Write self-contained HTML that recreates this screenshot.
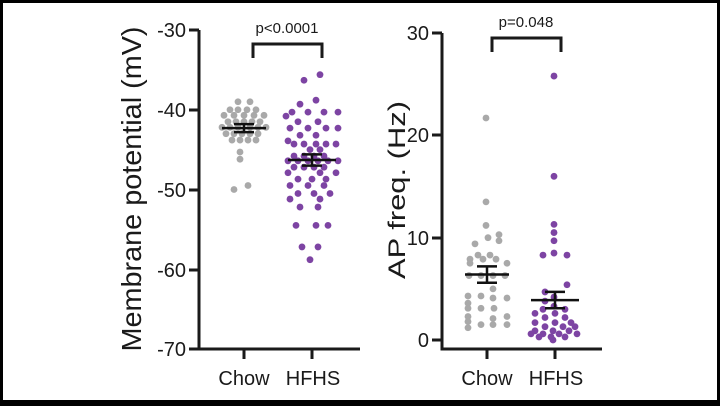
<!DOCTYPE html>
<html><head><meta charset="utf-8"><style>
html,body{margin:0;padding:0;background:#000}
#c{position:absolute;left:0;top:0;width:720px;height:406px;background:#000}
svg{position:absolute;left:0;top:0}
text{font-family:"Liberation Sans",Arial,sans-serif;fill:#1a1a1a}
</style></head><body><div id="c">
<svg id="s" width="720" height="406" viewBox="0 0 720 406">
<rect x="3" y="3" width="714" height="397" fill="#fff"/>
<g stroke="#1a1a1a" stroke-width="3" fill="none">
<path d="M199,30 V349 H360"/>
<path d="M189,30 H199 M189,110 H199 M189,190 H199 M189,270 H199 M189,349 H199"/>
<path d="M244,349 V359 M312,349 V359"/>
<path d="M253,58 V44 H322 V58"/>
<path d="M442,33 V349 H602"/>
<path d="M432,33 H442 M432,135 H442 M432,238 H442 M432,340 H442"/>
<path d="M487,349 V359 M555,349 V359"/>
<path d="M492,52 V38 H561 V52"/>
</g>
<g font-size="20" text-anchor="end">
<text x="186" y="37">-30</text><text x="186" y="117">-40</text><text x="186" y="197">-50</text><text x="186" y="277">-60</text><text x="186" y="356">-70</text>
<text x="429" y="40">30</text><text x="429" y="142">20</text><text x="429" y="245">10</text><text x="429" y="347">0</text>
</g>
<g font-size="20" text-anchor="middle">
<text x="244" y="385">Chow</text><text x="313" y="385">HFHS</text>
<text x="487" y="385">Chow</text><text x="556" y="385">HFHS</text>
</g>
<text x="287" y="33" font-size="15" text-anchor="middle">p&lt;0.0001</text>
<text x="526" y="27" font-size="15" text-anchor="middle">p=0.048</text>
<text transform="translate(141,189) rotate(-90)" font-size="28" text-anchor="middle" textLength="325" lengthAdjust="spacingAndGlyphs">Membrane potential (mV)</text>
<text transform="translate(405,190) rotate(-90)" font-size="24" text-anchor="middle" textLength="178" lengthAdjust="spacingAndGlyphs">AP freq. (Hz)</text>
<g id="pts"></g>
<g stroke="#111" stroke-width="2.5" fill="none" id="means"></g>
</svg></div>
<script>
var g=document.getElementById('pts'),m=document.getElementById('means');
function yl(v){return 30+(-30-v)*7.975}
function yr(v){return 340-v*10.23}
function dot(x,y,c){var e=document.createElementNS('http://www.w3.org/2000/svg','circle');e.setAttribute('cx',x);e.setAttribute('cy',y);e.setAttribute('r',3.4);e.setAttribute('fill',c);g.appendChild(e)}
var G='#a9a9a9',P='#7d44a3';
// left chow
[[-39,[-6,6]],[-40,[-14,-6,3,12]],[-40.7,[-20,-10,0,10,20]],[-41.5,[-16,-8,0,8,16]],[-42.2,[-22,-14,-6,6,14,22]],[-43,[-18,-10,-2,6,14]],[-43.8,[-12,-4,4,12]],[-45.3,[-4]],[-46.2,[-4]],[-49.5,[4]],[-50,[-10]]].forEach(function(r){r[1].forEach(function(dx){dot(244+dx,yl(r[0]),G)})});
// left hfhs
[[-35.6,[8]],[-36.3,[-8]],[-38.8,[4]],[-39.3,[-12]],[-40.3,[-20,-4,12,26]],[-40.8,[-26]],[-41.5,[-14,6]],[-42.3,[-22,-4,14,26]],[-43.2,[-12,4]],[-43.9,[-24]],[-44.3,[-18,-8,4,14,24]],[-45,[-2,8]],[-45.8,[-18,-8,2,12]],[-46.4,[-24,-14,-4,6,16,26]],[-47.2,[-18,-8,2,12]],[-47.9,[-24,8,24]],[-48.7,[-14,0,14]],[-49.5,[-22,-4,12]],[-50.5,[-14,2,18]],[-51.2,[-22,8]],[-52.2,[-12,6]],[-54.5,[-16,4,16]],[-57.2,[-10,6]],[-58.8,[-2]]].forEach(function(r){r[1].forEach(function(dx){dot(312+dx,yl(r[0]),P)})});
// right chow
[[21.7,[-1]],[13.5,[-1]],[11.2,[-1]],[10.3,[12]],[10,[1]],[9.7,[12]],[9.4,[-12]],[8.3,[-9,3]],[7.9,[-17,-4,9]],[7.5,[-17,20]],[6.3,[-18,-6,6,18]],[5,[6]],[4.3,[-19,-6]],[4.1,[6,20]],[3.6,[-19]],[3.1,[-19,-6,7]],[2.3,[-19,20]],[2.1,[6]],[1.8,[-19]],[1.2,[-19]],[1.5,[-6,6,20]]].forEach(function(r){r[1].forEach(function(dx){dot(487+dx,yr(r[0]),G)})});
// right hfhs
[[25.8,[-1]],[16,[-1]],[11.3,[-1]],[10.5,[-1]],[9.7,[-1]],[8.5,[-1]],[8.3,[-12,12]],[5.4,[12]],[4.7,[-10]],[4.2,[-1]],[3.8,[-10]],[3.3,[-1]],[3,[-12,10]],[2.6,[-20,0]],[2.2,[-10,10]],[1.7,[-20,0,16]],[1.3,[-10,8,20]],[0.9,[-20,-2,14]],[0.6,[-24,-12,4,22]],[0.3,[-16,-4,10]],[0,[-2]]].forEach(function(r){r[1].forEach(function(dx){dot(555+dx,yr(r[0]),P)})});
function mean(x,y,lo,hi,hw){m.innerHTML+='<path d="M'+(x-hw)+','+y+'H'+(x+hw)+'M'+x+','+lo+'V'+hi+'M'+(x-10)+','+lo+'H'+(x+10)+'M'+(x-10)+','+hi+'H'+(x+10)+'"/>'}
mean(244,yl(-42.3),yl(-41.8),yl(-42.8),22);
mean(312,yl(-46.3),yl(-45.6),yl(-47),24);
mean(487,yr(6.4),yr(7.2),yr(5.6),22);
mean(555,yr(3.9),yr(4.7),yr(3.1),24);
</script>
</body></html>
